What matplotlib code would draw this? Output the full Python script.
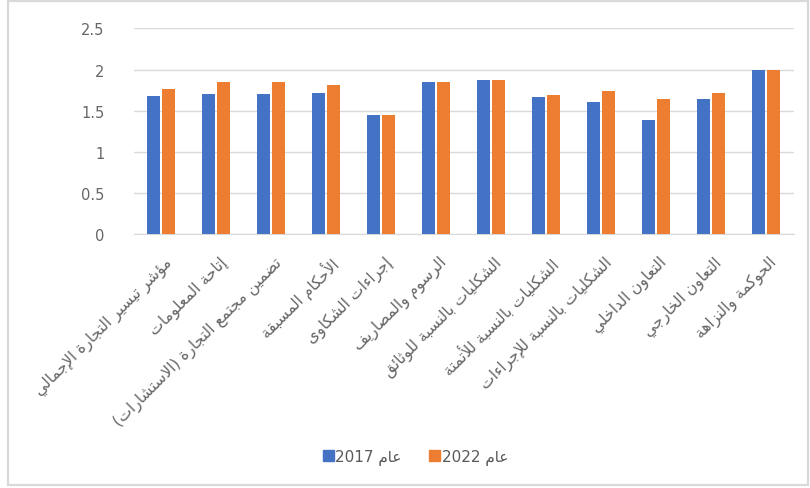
import matplotlib
matplotlib.use("Agg")
import matplotlib.pyplot as plt
from matplotlib.patches import Patch, Rectangle
import numpy as np

# ---- data ----
categories = [
    "مؤشر تيسير التجارة الإجمالي",
    "إتاحة المعلومات",
    "تضمين مجتمع التجارة (الاستشارات)",
    "الأحكام المسبقة",
    "إجراءات الشكاوى",
    "الرسوم والمصاريف",
    "الشكليات بالنسبة للوثائق",
    "الشكليات بالنسبة للأتمتة",
    "الشكليات بالنسبة للإجراءات",
    "التعاون الداخلي",
    "التعاون الخارجي",
    "الحوكمة والنزاهة",
]
values_2017 = [1.68, 1.70, 1.70, 1.72, 1.45, 1.85, 1.87, 1.67, 1.61, 1.39, 1.64, 2.00]
values_2022 = [1.77, 1.85, 1.85, 1.81, 1.45, 1.85, 1.87, 1.69, 1.74, 1.64, 1.72, 2.00]
series_years = ["2017", "2022"]
year_word = "عام"
y_ticks = [0, 0.5, 1, 1.5, 2, 2.5]
y_tick_labels = ["0", "0.5", "1", "1.5", "2", "2.5"]

# ---- minimal Arabic shaping (presentation forms) + visual ordering ----
_FORMS = {
    "ء": (0xFE80, None, None, None),
    "آ": (0xFE81, 0xFE82, None, None),
    "أ": (0xFE83, 0xFE84, None, None),
    "ؤ": (0xFE85, 0xFE86, None, None),
    "إ": (0xFE87, 0xFE88, None, None),
    "ئ": (0xFE89, 0xFE8A, 0xFE8B, 0xFE8C),
    "ا": (0xFE8D, 0xFE8E, None, None),
    "ب": (0xFE8F, 0xFE90, 0xFE91, 0xFE92),
    "ة": (0xFE93, 0xFE94, None, None),
    "ت": (0xFE95, 0xFE96, 0xFE97, 0xFE98),
    "ث": (0xFE99, 0xFE9A, 0xFE9B, 0xFE9C),
    "ج": (0xFE9D, 0xFE9E, 0xFE9F, 0xFEA0),
    "ح": (0xFEA1, 0xFEA2, 0xFEA3, 0xFEA4),
    "خ": (0xFEA5, 0xFEA6, 0xFEA7, 0xFEA8),
    "د": (0xFEA9, 0xFEAA, None, None),
    "ذ": (0xFEAB, 0xFEAC, None, None),
    "ر": (0xFEAD, 0xFEAE, None, None),
    "ز": (0xFEAF, 0xFEB0, None, None),
    "س": (0xFEB1, 0xFEB2, 0xFEB3, 0xFEB4),
    "ش": (0xFEB5, 0xFEB6, 0xFEB7, 0xFEB8),
    "ص": (0xFEB9, 0xFEBA, 0xFEBB, 0xFEBC),
    "ض": (0xFEBD, 0xFEBE, 0xFEBF, 0xFEC0),
    "ط": (0xFEC1, 0xFEC2, 0xFEC3, 0xFEC4),
    "ظ": (0xFEC5, 0xFEC6, 0xFEC7, 0xFEC8),
    "ع": (0xFEC9, 0xFECA, 0xFECB, 0xFECC),
    "غ": (0xFECD, 0xFECE, 0xFECF, 0xFED0),
    "ف": (0xFED1, 0xFED2, 0xFED3, 0xFED4),
    "ق": (0xFED5, 0xFED6, 0xFED7, 0xFED8),
    "ك": (0xFED9, 0xFEDA, 0xFEDB, 0xFEDC),
    "ل": (0xFEDD, 0xFEDE, 0xFEDF, 0xFEE0),
    "م": (0xFEE1, 0xFEE2, 0xFEE3, 0xFEE4),
    "ن": (0xFEE5, 0xFEE6, 0xFEE7, 0xFEE8),
    "ه": (0xFEE9, 0xFEEA, 0xFEEB, 0xFEEC),
    "و": (0xFEED, 0xFEEE, None, None),
    "ى": (0xFEEF, 0xFEF0, None, None),
    "ي": (0xFEF1, 0xFEF2, 0xFEF3, 0xFEF4),
}
_LAM_ALEF = {"آ": (0xFEF5, 0xFEF6), "أ": (0xFEF7, 0xFEF8),
             "إ": (0xFEF9, 0xFEFA), "ا": (0xFEFB, 0xFEFC)}
_MIRROR = {"(": ")", ")": "("}


def shape_arabic(text):
    units = []  # (forms tuple or None, raw char)
    i = 0
    while i < len(text):
        ch = text[i]
        if ch == "ل" and i + 1 < len(text) and text[i + 1] in _LAM_ALEF:
            iso, fin = _LAM_ALEF[text[i + 1]]
            units.append(((iso, fin, None, None), None))
            i += 2
            continue
        units.append((_FORMS.get(ch), ch))
        i += 1

    out = []
    for k, (forms, raw) in enumerate(units):
        if forms is None:
            out.append(raw)
            continue
        prev = units[k - 1][0] if k > 0 else None
        nxt = units[k + 1][0] if k + 1 < len(units) else None
        join_prev = prev is not None and prev[2] is not None and forms[1] is not None
        join_next = nxt is not None and forms[2] is not None
        if join_prev and join_next:
            cp = forms[3]
        elif join_prev:
            cp = forms[1]
        elif join_next:
            cp = forms[2]
        else:
            cp = forms[0]
        out.append(chr(cp))
    return "".join(_MIRROR.get(c, c) for c in reversed(out))


# ---- figure ----
W, H = 810, 489
fig = plt.figure(figsize=(W / 100, H / 100), dpi=100)
fig.patch.set_facecolor("white")

# thin frame around the chart area
fig.add_artist(Rectangle((8 / W, 3 / H), (W - 10) / W, (H - 5) / H,
                         transform=fig.transFigure, fill=False,
                         edgecolor="#D9D9D9", linewidth=1.6))

ax = fig.add_axes([133.5 / W, 1 - 235.3 / H, 660 / W, (235.3 - 29.4) / H])

x = np.arange(len(categories))
bw = 0.23
off = 0.135
blue = "#4472C4"
orange = "#ED7D31"
ax.bar(x - off, values_2017, bw, color=blue, zorder=3)
ax.bar(x + off, values_2022, bw, color=orange, zorder=3)

ax.set_xlim(-0.5, len(categories) - 0.5)
ax.set_ylim(0, 2.5)
ax.set_yticks(y_ticks)
ax.set_yticklabels(y_tick_labels)
ax.yaxis.grid(True, color="#D9D9D9", linewidth=1.0, zorder=0)
ax.set_axisbelow(True)
for s in ax.spines.values():
    s.set_visible(False)
ax.spines["bottom"].set_visible(True)
ax.spines["bottom"].set_color("#D9D9D9")
ax.tick_params(axis="both", length=0, colors="#666666", labelsize=10.5)
ax.tick_params(axis="y", pad=21)

ax.set_xticks(x + 0.05)
ax.set_xticklabels([shape_arabic(c) for c in categories], rotation=45,
                   ha="right", va="top", rotation_mode="anchor",
                   fontsize=11.2, color="#666666", family="DejaVu Sans")
ax.tick_params(axis="x", pad=14)

handles = [Patch(color=blue), Patch(color=orange)]
labels = [f"{yr} {shape_arabic(year_word)}" for yr in series_years]
fig.legend(handles, labels, loc="center", bbox_to_anchor=(0.513, 1 - 458 / H),
           ncol=2, frameon=False, fontsize=11, labelcolor="#595959",
           handlelength=0.7, handleheight=0.7, handletextpad=0.1,
           columnspacing=1.8)

fig.savefig("out.png", dpi=100)
